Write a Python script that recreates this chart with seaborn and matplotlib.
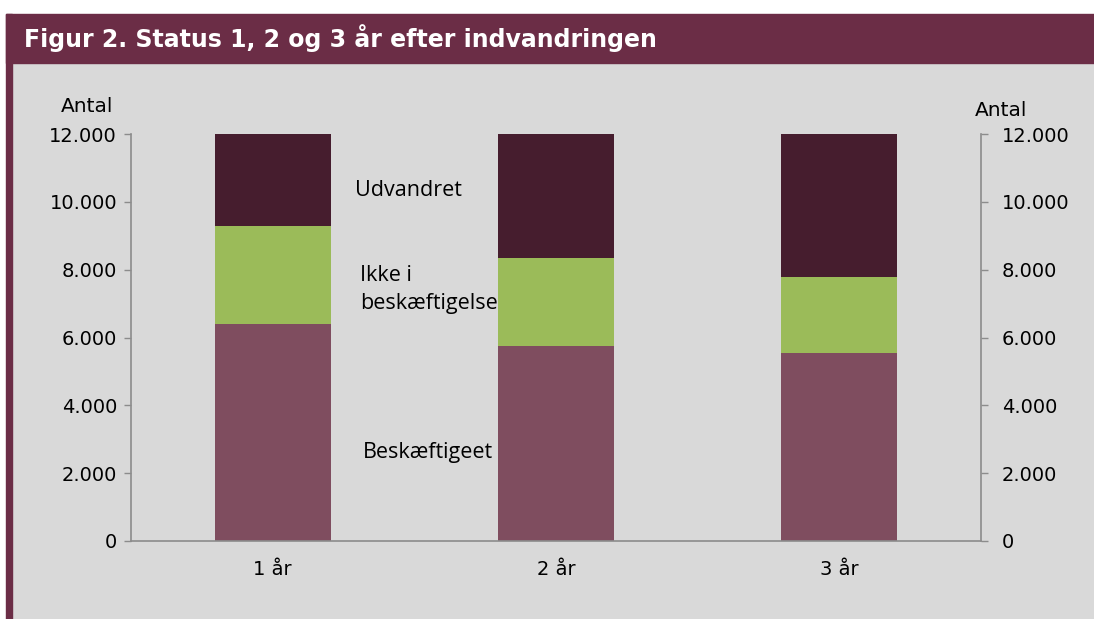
import matplotlib
matplotlib.use("Agg")
import matplotlib.pyplot as plt
import matplotlib.patches as mpatches
from matplotlib.ticker import FuncFormatter
import seaborn as sns
import pandas as pd

years = ["1 år", "2 år", "3 år"]
beskaeftiget = [6400, 5750, 5540]
ikke_i_beskaeftigelse = [2890, 2590, 2240]
udvandret = [2710, 3660, 4220]

df = pd.DataFrame({"aar": years, "besk": beskaeftiget,
                   "ikke": ikke_i_beskaeftigelse, "udv": udvandret})
df["lvl2"] = df["besk"] + df["ikke"]
df["lvl3"] = df["lvl2"] + df["udv"]

sns.set_theme(style="white")
plt.rcParams["font.family"] = ["DejaVu Sans"]
plt.rcParams["text.color"] = "black"
plt.rcParams["xtick.color"] = "black"
plt.rcParams["ytick.color"] = "black"

W, H = 1094, 619
fig = plt.figure(figsize=(W / 100, H / 100), dpi=100, facecolor="white")

# panel background, header band and left strip
fig.patches.append(mpatches.Rectangle((12 / W, 0), 1, 1 - 63 / H, transform=fig.transFigure,
                                      color="#d9d9d9", zorder=-3))
fig.patches.append(mpatches.Rectangle((6 / W, 1 - 63 / H), 1, 49 / H, transform=fig.transFigure,
                                      color="#6b2d46", zorder=-2))
fig.patches.append(mpatches.Rectangle((6 / W, 0), 6 / W, 1 - 14 / H, transform=fig.transFigure,
                                      color="#6b2d46", zorder=-2))
fig.text(24 / W, 1 - 38 / H, "Figur 2. Status 1, 2 og 3 år efter indvandringen",
         color="white", fontsize=17, fontweight="bold", va="center", ha="left")

ax = fig.add_axes([131 / W, 1 - 541 / H, (981 - 131) / W, (541 - 134) / H])
ax.set_facecolor("none")

bar = dict(width=0.41, saturation=1, linewidth=0, ax=ax)
sns.barplot(data=df, x="aar", y="lvl3", color="#461d2e", **bar)
sns.barplot(data=df, x="aar", y="lvl2", color="#9bbb59", **bar)
sns.barplot(data=df, x="aar", y="besk", color="#7f4d5f", **bar)

fmt = FuncFormatter(lambda v, p: f"{int(v):,}".replace(",", "."))
axis_col = "#8c8c8c"

ax.set_ylim(0, 12000)
ax.set_xlim(-0.5, 2.5)
ax.set_yticks(range(0, 12001, 2000))
ax.yaxis.set_major_formatter(fmt)
ax.set_xticks([-0.5, 0.5, 1.5, 2.5])
ax.set_xticklabels([])
ax.set_xticks([0, 1, 2], minor=True)
ax.set_xticklabels(years, minor=True)
ax.tick_params(axis="x", which="major", direction="out", length=6, color=axis_col, width=1)
ax.tick_params(axis="x", which="minor", length=0, pad=14, labelsize=14)
ax.tick_params(axis="y", direction="out", length=5, color=axis_col, width=1, labelsize=14, pad=5,
               left=True)
ax.set_xlabel("")
ax.set_ylabel("")
for s in ["top", "right"]:
    ax.spines[s].set_visible(False)
for s in ["left", "bottom"]:
    ax.spines[s].set_color(axis_col)
    ax.spines[s].set_linewidth(1.2)

ax2 = ax.twinx()
ax2.set_ylim(0, 12000)
ax2.set_yticks(range(0, 12001, 2000))
ax2.yaxis.set_major_formatter(fmt)
ax2.tick_params(axis="y", direction="out", length=5, color=axis_col, width=1, labelsize=14, pad=10)
for s in ["top", "left", "bottom"]:
    ax2.spines[s].set_visible(False)
ax2.spines["right"].set_color(axis_col)
ax2.spines["right"].set_linewidth(1.2)

fig.text(113 / W, 1 - 106 / H, "Antal", fontsize=14.5, ha="right", va="center")
fig.text(975 / W, 1 - 110 / H, "Antal", fontsize=14.5, ha="left", va="center")

lab = dict(fontsize=15.5, ha="left", va="center", family=["Open Sans", "DejaVu Sans"])
ax.text(0.29, 10330, "Udvandret", **lab)
ax.text(0.31, 7420, "Ikke i\nbeskæftigelse", linespacing=1.45, **lab)
ax.text(0.32, 2600, "Beskæftigeet", **lab)

fig.savefig("out.png", dpi=100, facecolor=fig.get_facecolor())
